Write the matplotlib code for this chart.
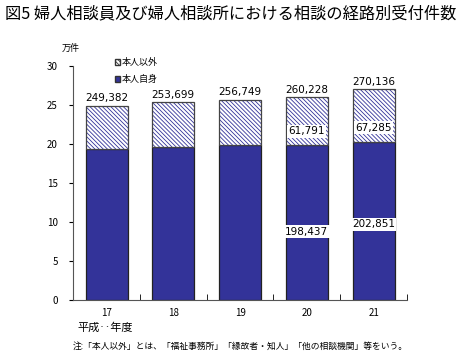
import numpy as np
import matplotlib
matplotlib.use('Agg')
import matplotlib.pyplot as plt
from matplotlib.patches import Patch

plt.rcParams['font.family'] = ['Noto Sans CJK JP', 'DejaVu Sans']
plt.rcParams['hatch.linewidth'] = 0.6

# データ (単位: 件)
years = ['17', '18', '19', '20', '21']
totals = [249382, 253699, 256749, 260228, 270136]
self_counts = [194000, 196500, 198400, 198437, 202851]   # 17-19 は図から推定
other_counts = [t - s for t, s in zip(totals, self_counts)]
labeled = [False, False, False, True, True]

blue = '#333399'
hatch = '\\' * 8

fig = plt.figure(figsize=(4.63, 3.63), dpi=100)
ax = fig.add_axes([0.158, 0.174, 0.721, 0.644])

x = np.arange(len(years))
s = np.array(self_counts) / 10000
o = np.array(other_counts) / 10000
ax.bar(x, s, width=0.63, color=blue, edgecolor='#222222', linewidth=0.9)
# 斜線は青、枠線は別に描く
ax.bar(x, o, width=0.63, bottom=s, color='white', edgecolor=blue,
       linewidth=0, hatch=hatch)
ax.bar(x, o, width=0.63, bottom=s, color='none', edgecolor='#444444', linewidth=0.9)

for i in range(len(years)):
    ax.text(x[i], totals[i] / 10000 + 0.3, f'{totals[i]:,}', ha='center',
            va='bottom', fontsize=7.5, family='DejaVu Sans')
    if labeled[i]:
        ax.text(x[i], s[i] + 1.8, f'{other_counts[i]:,}', ha='center', va='center',
                fontsize=7.5, family='DejaVu Sans',
                bbox=dict(facecolor='white', edgecolor='none', pad=1))
        ax.text(x[i], s[i] - 11.1 + (i - 3) * 0.5, f'{self_counts[i]:,}', ha='center',
                va='center', fontsize=7.5, family='DejaVu Sans',
                bbox=dict(facecolor='white', edgecolor='none', pad=1))

ax.set_xlim(-0.5, 4.5)
ax.set_ylim(0, 30)
ax.set_yticks(range(0, 31, 5))
ax.tick_params(axis='y', labelsize=7, direction='out', length=3, pad=8)
ax.set_xticks(x)
ax.set_xticklabels(years)
ax.tick_params(axis='x', length=0, labelsize=7, pad=6)
ax.set_xticks(np.arange(-0.5, 5, 1), minor=True)
ax.tick_params(axis='x', which='minor', direction='in', length=4)
for sp in ['top', 'right']:
    ax.spines[sp].set_visible(False)
ax.spines['left'].set_color('#555555')
ax.spines['bottom'].set_color('#555555')

handles = [Patch(facecolor='white', edgecolor='#333333', hatch=hatch, label='本人以外'),
           Patch(facecolor=blue, edgecolor='#333333', label='本人自身')]
ax.legend(handles=handles, loc='upper left', bbox_to_anchor=(0.1, 1.07), frameon=False,
          fontsize=6.5, handlelength=0.6, handleheight=0.6, handletextpad=0.2,
          labelspacing=0.9)

fig.text(0.01, 0.985, '図5 婦人相談員及び婦人相談所における相談の経路別受付件数',
         fontsize=11.7, va='top', ha='left')
fig.text(0.133, 0.866, '万件', fontsize=6.5, va='center')
fig.text(0.167, 0.097, '平成‥年度', fontsize=8, va='center')
fig.text(0.158, 0.045, '注:「本人以外」とは、「福祉事務所」「縁故者・知人」「他の相談機関」等をいう。',
         fontsize=6.3, va='center')

fig.savefig('out.png', dpi=100)
